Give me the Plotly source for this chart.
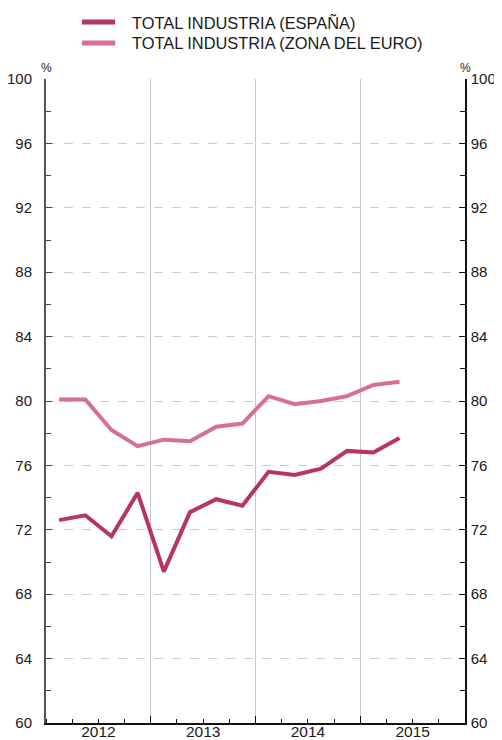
import plotly.graph_objects as go

# Quarters 2012-T1 .. 2015-T2
years = [2012, 2012, 2012, 2012, 2013, 2013, 2013, 2013, 2014, 2014, 2014, 2014, 2015, 2015]
quarters = [1, 2, 3, 4, 1, 2, 3, 4, 1, 2, 3, 4, 1, 2]
espana = [72.6, 72.9, 71.6, 74.3, 69.4, 73.1, 73.9, 73.5, 75.6, 75.4, 75.8, 76.9, 76.8, 77.7]
zona_euro = [80.1, 80.1, 78.2, 77.2, 77.6, 77.5, 78.4, 78.6, 80.3, 79.8, 80.0, 80.3, 81.0, 81.2]
series_names = ["TOTAL INDUSTRIA (ESPAÑA)", "TOTAL INDUSTRIA (ZONA DEL EURO)"]
year_labels = ["2012", "2013", "2014", "2015"]
y_ticks = [60, 64, 68, 72, 76, 80, 84, 88, 92, 96, 100]

x = [y + (q - 0.5) / 4 for y, q in zip(years, quarters)]

FONT = "Liberation Sans, Arial, Helvetica, sans-serif"
C_ES = "#b8355e"
C_EU = "#d5718f"
colors = [C_ES, C_EU]

fig = go.Figure()
fig.add_trace(go.Scatter(x=x, y=espana, mode="lines", name=series_names[0],
                         line=dict(color=C_ES, width=4), showlegend=False))
fig.add_trace(go.Scatter(x=x, y=zona_euro, mode="lines", name=series_names[1],
                         line=dict(color=C_EU, width=4), showlegend=False))
# helper empty trace for secondary axes
fig.add_trace(go.Scatter(x=[None], y=[None], xaxis="x2", yaxis="y2", showlegend=False,
                         hoverinfo="skip"))

# manual legend (paper coordinates)
shapes = []
annotations = []
for i, (nm, c) in enumerate(zip(series_names, colors)):
    yy = 1.0885 - i * 0.0326
    shapes.append(dict(type="line", xref="paper", yref="paper", x0=0.086, x1=0.165,
                       y0=yy, y1=yy, line=dict(color=c, width=5)))
    annotations.append(dict(text=nm, xref="paper", yref="paper", x=0.2, y=yy,
                            xanchor="left", yanchor="middle", showarrow=False,
                            font=dict(size=16.4, color="#1a1a1a")))
annotations += [
    dict(text="%", xref="paper", yref="paper", x=0, y=1.0, xanchor="center",
         yanchor="bottom", showarrow=False, font=dict(size=12), yshift=2),
    dict(text="%", xref="paper", yref="paper", x=1, y=1.0, xanchor="center",
         yanchor="bottom", showarrow=False, font=dict(size=12), yshift=2),
]

# page body has an 8px margin, so the figure is sized to fit the remaining window
fig.update_layout(
    width=494, height=732,
    margin=dict(l=38, r=37, t=71, b=17, autoexpand=False),
    paper_bgcolor="white", plot_bgcolor="white",
    font=dict(family=FONT, size=15, color="#1a1a1a"),
    showlegend=False,
    shapes=shapes,
    annotations=annotations,
    xaxis=dict(range=[2012, 2016], tickvals=[2012.5, 2013.5, 2014.5, 2015.5],
               ticktext=year_labels, ticks="", showgrid=False, zeroline=False,
               showline=True, linecolor="#111", linewidth=1.5, automargin=False,
               tickfont=dict(size=15.5), ticklabelstandoff=-6,
               minor=dict(tick0=2012, dtick=0.25, ticks="inside", ticklen=4,
                          tickcolor="#111", tickwidth=1, showgrid=False)),
    xaxis2=dict(range=[2012, 2016], overlaying="x", tickvals=[2013, 2014, 2015],
                showticklabels=False, ticks="inside", ticklen=7, tickcolor="#111",
                tickwidth=1.2, showgrid=True, gridcolor="#c8c8c8", gridwidth=1,
                zeroline=False, showline=False, automargin=False),
    yaxis=dict(range=[60, 100], tickvals=y_ticks, ticks="inside", ticklen=6,
               tickcolor="#444", tickwidth=1.2, showgrid=True, gridcolor="#cccccc",
               griddash="dash", gridwidth=1, zeroline=False, showline=True,
               linecolor="#555", linewidth=2, ticklabelstandoff=9, automargin=False,
               tickfont=dict(size=15),
               minor=dict(tick0=60, dtick=2, ticks="inside", ticklen=5,
                          tickcolor="#444", tickwidth=1, showgrid=False)),
    yaxis2=dict(range=[60, 100], tickvals=y_ticks, overlaying="y", side="right",
                ticks="inside", ticklen=6, tickcolor="#111", tickwidth=1.2,
                showgrid=False, zeroline=False, showline=True, linecolor="#111",
                linewidth=1.5, ticklabelstandoff=1, automargin=False,
                tickfont=dict(size=15),
                minor=dict(tick0=60, dtick=2, ticks="inside", ticklen=5,
                           tickcolor="#111", tickwidth=1, showgrid=False)),
)

fig.write_html("out.html")
